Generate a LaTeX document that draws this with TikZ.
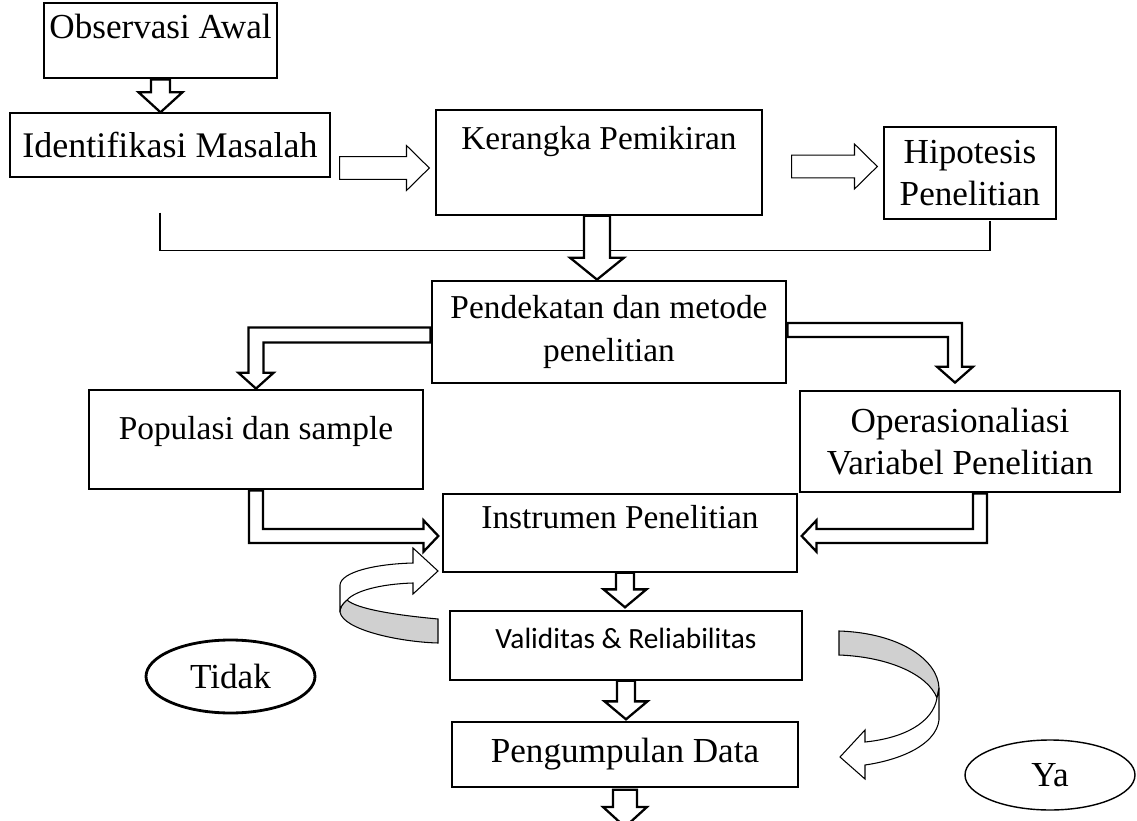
\documentclass[tikz,border=0pt]{standalone}
\usepackage{fontspec}
\setmainfont{Liberation Serif}
\newfontfamily\calfont{Carlito}
\usepackage{tikz}
\usetikzlibrary{shapes,positioning,calc}
\definecolor{ribbongray}{RGB}{208,208,208}

% block arrows: [style]{from}{to}{half shaft}{half head}{head length}
\newcommand{\downblock}[6][]{%
  \draw[#1] let \p1=(#2), \p2=(#3) in
    (\x1-#4,\y1) -- (\x1-#4,\y2+#6) -- (\x1-#5,\y2+#6) -- (\x1,\y2)
    -- (\x1+#5,\y2+#6) -- (\x1+#4,\y2+#6) -- (\x1+#4,\y1) -- cycle;}
\newcommand{\rightblock}[6][]{%
  \draw[#1] let \p1=(#2), \p2=(#3) in
    (\x1,\y1+#4) -- (\x2-#6,\y1+#4) -- (\x2-#6,\y1+#5) -- (\x2,\y1)
    -- (\x2-#6,\y1-#5) -- (\x2-#6,\y1-#4) -- (\x1,\y1-#4) -- cycle;}
\newcommand{\leftbent}[6][]{%
  \draw[#1] let \p1=(#2), \p2=(#3) in
    (\x1,\y1+#4) -- (\x2-#4,\y1+#4) -- (\x2-#4,\y2+#6) -- (\x2-#5,\y2+#6) -- (\x2,\y2)
    -- (\x2+#5,\y2+#6) -- (\x2+#4,\y2+#6) -- (\x2+#4,\y1-#4) -- (\x1,\y1-#4) -- cycle;}
\newcommand{\rightbent}[6][]{%
  \draw[#1] let \p1=(#2), \p2=(#3) in
    (\x1,\y1+#4) -- (\x2+#4,\y1+#4) -- (\x2+#4,\y2+#6) -- (\x2+#5,\y2+#6) -- (\x2,\y2)
    -- (\x2-#5,\y2+#6) -- (\x2-#4,\y2+#6) -- (\x2-#4,\y1-#4) -- (\x1,\y1-#4) -- cycle;}
\newcommand{\downright}[6][]{%
  \draw[#1] let \p1=(#2), \p2=(#3) in
    (\x1-#4,\y1) -- (\x1-#4,\y2-#4) -- (\x2-#6,\y2-#4) -- (\x2-#6,\y2-#5) -- (\x2,\y2)
    -- (\x2-#6,\y2+#5) -- (\x2-#6,\y2+#4) -- (\x1+#4,\y2+#4) -- (\x1+#4,\y1) -- cycle;}
\newcommand{\downleft}[6][]{%
  \draw[#1] let \p1=(#2), \p2=(#3) in
    (\x1+#4,\y1) -- (\x1+#4,\y2-#4) -- (\x2+#6,\y2-#4) -- (\x2+#6,\y2-#5) -- (\x2,\y2)
    -- (\x2+#6,\y2+#5) -- (\x2+#6,\y2+#4) -- (\x1-#4,\y2+#4) -- (\x1-#4,\y1) -- cycle;}

\begin{document}
\begin{tikzpicture}[x=0.02cm,y=-0.02cm,
	thick box/.style={rectangle,draw,line width=1.6pt,align=center,inner sep=2pt},
	thin box/.style={rectangle,draw,line width=0.8pt,align=center,inner sep=2pt},
	thick block/.style={draw,line width=1.3pt,fill=white,line join=miter},
	thin block/.style={draw,line width=0.6pt,fill=white},
	ribbon/.style={draw,line width=0.6pt},
	font=\fontsize{20}{24}\selectfont]

	\useasboundingbox (0,0) rectangle (1137,821);

	\node[thick box,minimum width=4.66cm,minimum height=1.5cm,text height=14pt,text depth=16.6pt] (oa) at (160.5,40.5) {Observasi Awal};
	\node[thin box,minimum width=6.4cm,minimum height=1.28cm,font=\fontsize{20.5}{25}\selectfont] (im) at (170,145) {Identifikasi Masalah};
	\node[thin box,minimum width=6.52cm,minimum height=2.1cm,text height=13pt,text depth=28pt,font=\fontsize{19}{23}\selectfont] (kp) at (599,162.5) {Kerangka Pemikiran};
	\node[thin box,minimum width=3.44cm,minimum height=1.84cm] (hp) at (970,173) {Hipotesis\\Penelitian};
	\node[thick box,minimum width=7.08cm,minimum height=2.04cm,font=\fontsize{19}{24}\selectfont] (pd) at (609,332) {Pendekatan dan metode\\penelitian};
	\node[thick box,minimum width=6.68cm,minimum height=1.98cm,text height=13pt,text depth=12.5pt,font=\fontsize{19}{23}\selectfont] (pp) at (256,439.5) {Populasi dan sample};
	\node[thick box,minimum width=6.4cm,minimum height=2.02cm] (op) at (960,441.5) {Operasionaliasi\\Variabel Penelitian};
	\node[thin box,minimum width=7.08cm,minimum height=1.56cm,text height=13pt,text depth=18pt,font=\fontsize{19}{23}\selectfont] (ip) at (620,533) {Instrumen Penelitian};
	\node[thin box,minimum width=7.04cm,minimum height=1.38cm,font=\calfont\fontsize{16.7}{20}\selectfont,text height=12pt,text depth=9pt] (vr) at (626,645.5) {Validitas \& Reliabilitas};
	\node[thin box,minimum width=6.92cm,minimum height=1.3cm] (pg) at (625,754.5) {Pengumpulan Data};
	\node[ellipse,draw,line width=1.6pt,minimum width=3.38cm,minimum height=1.46cm] (td) at (230.5,676.5) {Tidak};
	\node[ellipse,draw,line width=0.8pt,minimum width=3.4cm,minimum height=1.4cm] (ya) at (1050,775) {Ya};
	\coordinate (end) at (625,827);

	% bracket under the first row
	\draw[line width=0.8pt] ($(im.south)+(-10,35)$) |- ($(hp.south)+(20,31)$) -- ($(hp.south)+(20,1)$);

	% block arrows
	\downblock[thick block]{oa.south}{im.north}{5.4pt}{12.5pt}{11.4pt}
	\rightblock[thin block]{$(im.east)+(9,23)$}{$(kp.west)+(-6,6)$}{6.5pt}{12.8pt}{13pt}
	\rightblock[thin block]{$(kp.east)+(29,4)$}{$(hp.west)+(-6,0)$}{6.5pt}{12.8pt}{13pt}
	\downblock[thick block]{$(kp.south)+(-2,0)$}{pd.north}{7.4pt}{15.4pt}{12.5pt}
	\leftbent[thick block]{$(pd.west)+(0,3)$}{pp.north}{4.3pt}{10pt}{9pt}
	\rightbent[thick block]{$(pd.east)+(0,-2)$}{$(op.north)+(-5,-7)$}{4pt}{10.2pt}{9pt}
	\downright[thick block]{pp.south}{$(ip.west)+(-4,3)$}{4pt}{9pt}{8.5pt}
	\downleft[thick block]{$(op.south)+(20,0)$}{$(ip.east)+(4,3)$}{4pt}{9pt}{8.5pt}
	\downblock[thick block]{$(ip.south)+(5,0)$}{$(vr.north)+(-1,-3)$}{5.1pt}{12.2pt}{10.2pt}
	\downblock[thick block]{vr.south}{$(pg.north)+(0,-2)$}{5.1pt}{12.2pt}{10.2pt}
	\downblock[thick block]{$(pg.south)+(0,2)$}{end}{6.8pt}{12.5pt}{11.4pt}

	% curved ribbon arrows
	\filldraw[ribbon,fill=ribbongray] (438,619) .. controls (395,615) and (357,609) .. (347,600)
		.. controls (342,604) and (340,608) .. (340,612)
		.. controls (343,630) and (400,642) .. (438,643) -- cycle;
	\filldraw[ribbon,fill=white] (340,612) -- (340,585) .. controls (341,572) and (375,564) .. (413,563)
		-- (413,548) -- (438,571) -- (413,594) -- (413,583)
		.. controls (380,584) and (355,591) .. (347,600)
		.. controls (342,604) and (340,608) .. (340,612) -- cycle;
	\filldraw[ribbon,fill=ribbongray] (839,631) .. controls (900,633) and (938,660) .. (939,688)
		-- (937,698) .. controls (928,675) and (890,657) .. (839,655) -- cycle;
	\filldraw[ribbon,fill=white] (939,688) -- (939,720) .. controls (936,745) and (900,760) .. (865,765)
		-- (865,779) -- (840,757) -- (865,730) -- (865,742)
		.. controls (905,738) and (933,722) .. (937,698) -- cycle;

\end{tikzpicture}
\end{document}
